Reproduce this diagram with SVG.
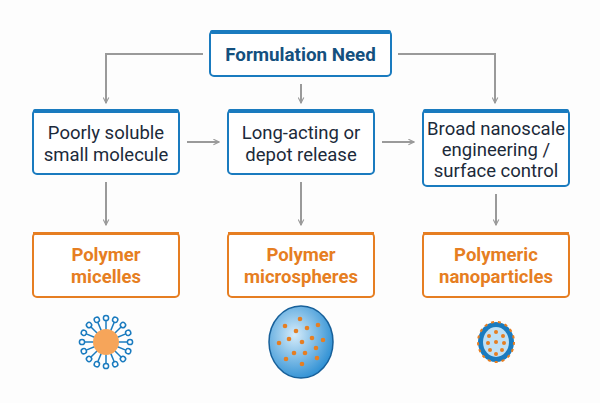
<svg xmlns="http://www.w3.org/2000/svg" width="600" height="403" viewBox="0 0 600 403">
<defs>
<style>
.nb{fill:#fff;stroke:#1a7bbf;stroke-width:2}
.ob{fill:#fff;stroke:#e67e22;stroke-width:2}
.bar{fill:#1a7bbf}
.obar{fill:#e67e22}
.t{font-family:"Roboto","Liberation Sans",sans-serif;font-size:18.5px;fill:#1c2a3a;text-anchor:middle}
.h{font-family:"Roboto","Liberation Sans",sans-serif;font-size:18.8px;font-weight:bold;fill:#14507e;text-anchor:middle}
.o{font-family:"Roboto","Liberation Sans",sans-serif;font-size:18.5px;font-weight:bold;fill:#e67e22;text-anchor:middle}
.c{fill:none;stroke:#9a9a9a;stroke-width:2}
</style>
<marker id="a" viewBox="0 0 10 10" refX="9" refY="5" markerWidth="7" markerHeight="7" orient="auto" markerUnits="userSpaceOnUse"><path d="M1,1 L9,5 L1,9" fill="none" stroke="#9a9a9a" stroke-width="1.6"/></marker>
<radialGradient id="g" cx="0.4" cy="0.4" r="0.65"><stop offset="0" stop-color="#d6ecfa"/><stop offset="1" stop-color="#2b8ed3"/></radialGradient>
</defs>
<rect width="600" height="403" fill="#fdfdfd"/>
<g id="connectors">
<path class="c" d="M203,54 H106 V103" marker-end="url(#a)"/>
<path class="c" d="M398,54 H495 V103" marker-end="url(#a)"/>
<path class="c" d="M301,84 V103" marker-end="url(#a)"/>
<path class="c" d="M187,142 H219" marker-end="url(#a)"/>
<path class="c" d="M382,142 H414" marker-end="url(#a)"/>
<path class="c" d="M106,182 V225" marker-end="url(#a)"/>
<path class="c" d="M301,182 V225" marker-end="url(#a)"/>
<path class="c" d="M496,194 V225" marker-end="url(#a)"/>
</g>
<g id="need"><rect class="nb" x="210" y="31" width="181" height="45" rx="4"/><rect class="bar" x="210" y="30" width="181" height="4" rx="2"/><text class="h" x="300.5" y="61">Formulation Need</text></g>
<g id="n1"><rect class="nb" x="33" y="110" width="146" height="64" rx="4"/><rect class="bar" x="33" y="109" width="146" height="4" rx="2"/><text class="t" x="106" y="139">Poorly soluble</text><text class="t" x="106" y="161">small molecule</text></g>
<g id="n2"><rect class="nb" x="228" y="110" width="146" height="64" rx="4"/><rect class="bar" x="228" y="109" width="146" height="4" rx="2"/><text class="t" x="301" y="139">Long-acting or</text><text class="t" x="301" y="161">depot release</text></g>
<g id="n3"><rect class="nb" x="423" y="110" width="146" height="76" rx="4"/><rect class="bar" x="423" y="109" width="146" height="4" rx="2"/><text class="t" x="496" y="135">Broad nanoscale</text><text class="t" x="496" y="156">engineering /</text><text class="t" x="496" y="177">surface control</text></g>
<g id="o1"><rect class="ob" x="33" y="233" width="146" height="64" rx="4"/><rect class="obar" x="33" y="232" width="146" height="3"/><text class="o" x="106" y="261">Polymer</text><text class="o" x="106" y="283">micelles</text></g>
<g id="o2"><rect class="ob" x="228" y="233" width="146" height="64" rx="4"/><rect class="obar" x="228" y="232" width="146" height="3"/><text class="o" x="301" y="261">Polymer</text><text class="o" x="301" y="283">microspheres</text></g>
<g id="o3"><rect class="ob" x="423" y="233" width="146" height="64" rx="4"/><rect class="obar" x="423" y="232" width="146" height="3"/><text class="o" x="496" y="261">Polymeric</text><text class="o" x="496" y="283">nanoparticles</text></g>
<g id="micelle" transform="translate(106,342)">
<g stroke="#1a7bbf" stroke-width="1.5" fill="#fff">
<g id="arm"><line x1="0" y1="-8" x2="0" y2="-22"/><circle cx="0" cy="-24" r="2.6"/></g>
<use href="#arm" transform="rotate(22.5)"/><use href="#arm" transform="rotate(45)"/><use href="#arm" transform="rotate(67.5)"/><use href="#arm" transform="rotate(90)"/><use href="#arm" transform="rotate(112.5)"/><use href="#arm" transform="rotate(135)"/><use href="#arm" transform="rotate(157.5)"/><use href="#arm" transform="rotate(180)"/><use href="#arm" transform="rotate(202.5)"/><use href="#arm" transform="rotate(225)"/><use href="#arm" transform="rotate(247.5)"/><use href="#arm" transform="rotate(270)"/><use href="#arm" transform="rotate(292.5)"/><use href="#arm" transform="rotate(315)"/><use href="#arm" transform="rotate(337.5)"/>
</g>
<circle r="13" fill="#f6a55a"/>
</g>
<g id="microsphere">
<ellipse cx="301" cy="342" rx="32" ry="36" fill="url(#g)" stroke="#17609a" stroke-width="1.5"/>
<g fill="#e67e22"><circle cx="300" cy="319" r="2.3"/><circle cx="285" cy="326" r="2.3"/><circle cx="307" cy="328" r="2.3"/><circle cx="318" cy="325" r="2.3"/><circle cx="296" cy="331" r="2.3"/><circle cx="289" cy="339" r="2.3"/><circle cx="312" cy="338" r="2.3"/><circle cx="302" cy="342" r="2.3"/><circle cx="323" cy="340" r="2.3"/><circle cx="279" cy="343" r="2.3"/><circle cx="316" cy="348" r="2.3"/><circle cx="294" cy="353" r="2.3"/><circle cx="305" cy="353" r="2.3"/><circle cx="286" cy="359" r="2.3"/><circle cx="317" cy="358" r="2.3"/><circle cx="302" cy="364" r="2.3"/></g>
</g>
<g id="nanoparticle">
<ellipse cx="496" cy="342" rx="18" ry="20" fill="#1a7bbf" stroke="#e67e22" stroke-width="2" stroke-dasharray="3 4"/>
<ellipse cx="496" cy="342" rx="13" ry="15" fill="#bfe0f5"/>
<g fill="#e67e22"><circle cx="496" cy="332" r="2"/><circle cx="489" cy="336" r="2"/><circle cx="503" cy="336" r="2"/><circle cx="488" cy="343" r="2"/><circle cx="496" cy="342" r="2"/><circle cx="504" cy="343" r="2"/><circle cx="490" cy="350" r="2"/><circle cx="502" cy="350" r="2"/><circle cx="496" cy="354" r="2"/></g>
</g>
</svg>
